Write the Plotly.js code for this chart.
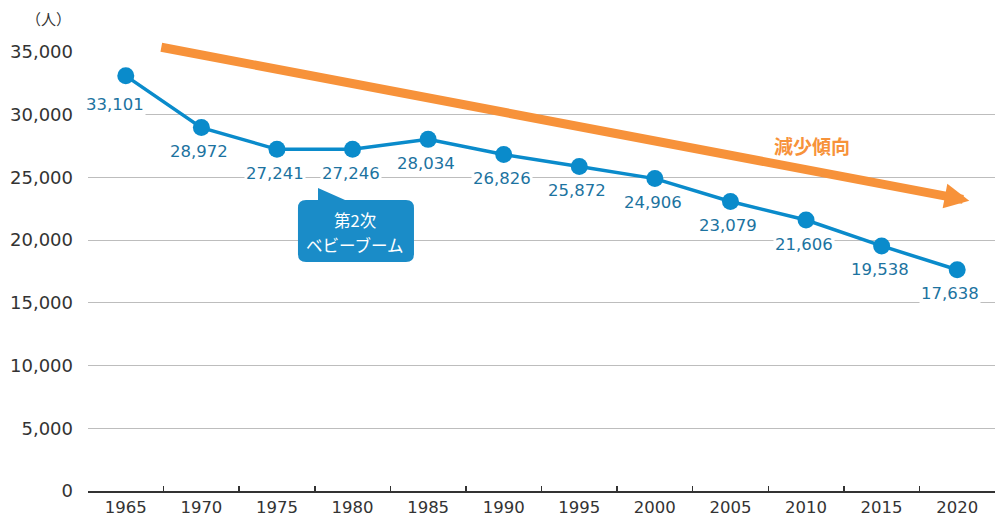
<!DOCTYPE html>
<html><head><meta charset="utf-8">
<script src="https://cdn.plot.ly/plotly-3.0.1.min.js"></script>
<style>html,body{margin:0;padding:0;background:#fff;}#chart{width:995px;height:519px;}</style>
</head><body><div id="chart"></div>
<script>
const years = ['1965','1970','1975','1980','1985','1990','1995','2000','2005','2010','2015','2020'];
const values = [33101,28972,27241,27246,28034,26826,25872,24906,23079,21606,19538,17638];
const yTicks = [0,5000,10000,15000,20000,25000,30000,35000];
const yTickText = ['0','5,000','10,000','15,000','20,000','25,000','30,000','35,000'];
const unitLabel = '（人）';
const trendLabel = '減少傾向';
const calloutLines = ['第2次', 'ベビーブーム'];

const NUMFONT = '"DejaVu Sans", "Noto Sans", sans-serif';
const JPFONT = '"Noto Sans CJK JP", "Noto Sans", sans-serif';
const BLUE = '#0a8bcb';
const LABEL = '#1c73a0';
const ORANGE = '#f7923a';

const fmt = v => v.toLocaleString('en-US');

const annotations = values.map((v, i) => ({
  x: i, y: v, xref: 'x', yref: 'y',
  text: fmt(v), showarrow: false,
  yshift: i === 0 ? -29 : -24,
  xshift: i === 0 ? -11 : (i === values.length - 1 ? -7 : -2),
  font: {family: NUMFONT, size: 16.5, color: LABEL},
  bgcolor: '#ffffff', borderpad: 1
}));

// unit label
annotations.push({xref:'paper', yref:'paper', x:-0.044, y:1.077, xanchor:'center', yanchor:'middle',
  text: unitLabel, showarrow:false, font:{family:JPFONT, size:15, color:'#333'}});
// trend arrow (decoration)
annotations.push({xref:'x', yref:'y', axref:'x', ayref:'y',
  x: 11.16, y: 23150, ax: 0.45, ay: 35400, text:'', showarrow:true,
  arrowhead:2, arrowsize:0.55, arrowwidth:9, arrowcolor: ORANGE, standoff:0, startstandoff:0});
annotations.push({xref:'paper', yref:'paper', x:0.798, y:0.786, xanchor:'center', yanchor:'middle',
  text: '<b>'+trendLabel+'</b>', showarrow:false, font:{family:JPFONT, size:19, color:ORANGE}});
// callout text lines
const L=88, W=907, T=52, H=439;
const px = x => ((x - L)/W);
const py = y => ((T + H - y)/H);
[[calloutLines[0], 220], [calloutLines[1], 245]].forEach(([t, yy]) => {
  annotations.push({xref:'paper', yref:'paper', x:px(355), y:py(yy), xanchor:'center', yanchor:'middle',
    text: t, showarrow:false, font:{family:JPFONT, size:16.5, color:'#ffffff'}});
});

// callout shape in paper coords, computed from pixel geometry of the plot box
const f = v => v.toFixed(4);
const x0=298, x1=414, y0=200, y1=262, r=8;
const path = `M ${f(px(x0+r))} ${f(py(y0))} L ${f(px(318))} ${f(py(y0))} L ${f(px(318))} ${f(py(188))} L ${f(px(345))} ${f(py(y0))} L ${f(px(x1-r))} ${f(py(y0))} Q ${f(px(x1))} ${f(py(y0))} ${f(px(x1))} ${f(py(y0+r))} L ${f(px(x1))} ${f(py(y1-r))} Q ${f(px(x1))} ${f(py(y1))} ${f(px(x1-r))} ${f(py(y1))} L ${f(px(x0+r))} ${f(py(y1))} Q ${f(px(x0))} ${f(py(y1))} ${f(px(x0))} ${f(py(y1-r))} L ${f(px(x0))} ${f(py(y0+r))} Q ${f(px(x0))} ${f(py(y0))} ${f(px(x0+r))} ${f(py(y0))} Z`;

const shapes = [{type:'path', xref:'paper', yref:'paper', path: path, fillcolor: '#1a8cc8', line:{width:0}, layer:'above'}];

const trace = {
  x: years, y: values, type:'scatter', mode:'lines+markers',
  line:{color: BLUE, width:3.5}, marker:{color: BLUE, size:17},
  cliponaxis:false, hoverinfo:'none'
};

const layout = {
  width:995, height:519,
  margin:{l:88, r:0, t:52, b:28},
  paper_bgcolor:'#fff', plot_bgcolor:'#fff',
  showlegend:false,
  font:{family:NUMFONT, color:'#333'},
  xaxis:{type:'category', range:[-0.5, 11.5], showgrid:false, zeroline:false,
    showline:true, linecolor:'#333', linewidth:1.5,
    ticks:'inside', tickson:'boundaries', ticklen:5, tickcolor:'#333', tickwidth:1.5,
    ticklabelstandoff:1,
    tickfont:{family:NUMFONT, size:16.5, color:'#333'}, fixedrange:true},
  yaxis:{range:[0,35000], tickvals:yTicks, ticktext:yTickText, showgrid:true,
    gridcolor:'#bdbdbd', gridwidth:1, zeroline:false, showline:false, ticks:'',
    ticklabelstandoff:14,
    tickfont:{family:NUMFONT, size:18, color:'#333'}, fixedrange:true},
  annotations: annotations,
  shapes: shapes
};

Plotly.newPlot('chart', [trace], layout, {displayModeBar:false, staticPlot:true});
</script>
</body></html>
